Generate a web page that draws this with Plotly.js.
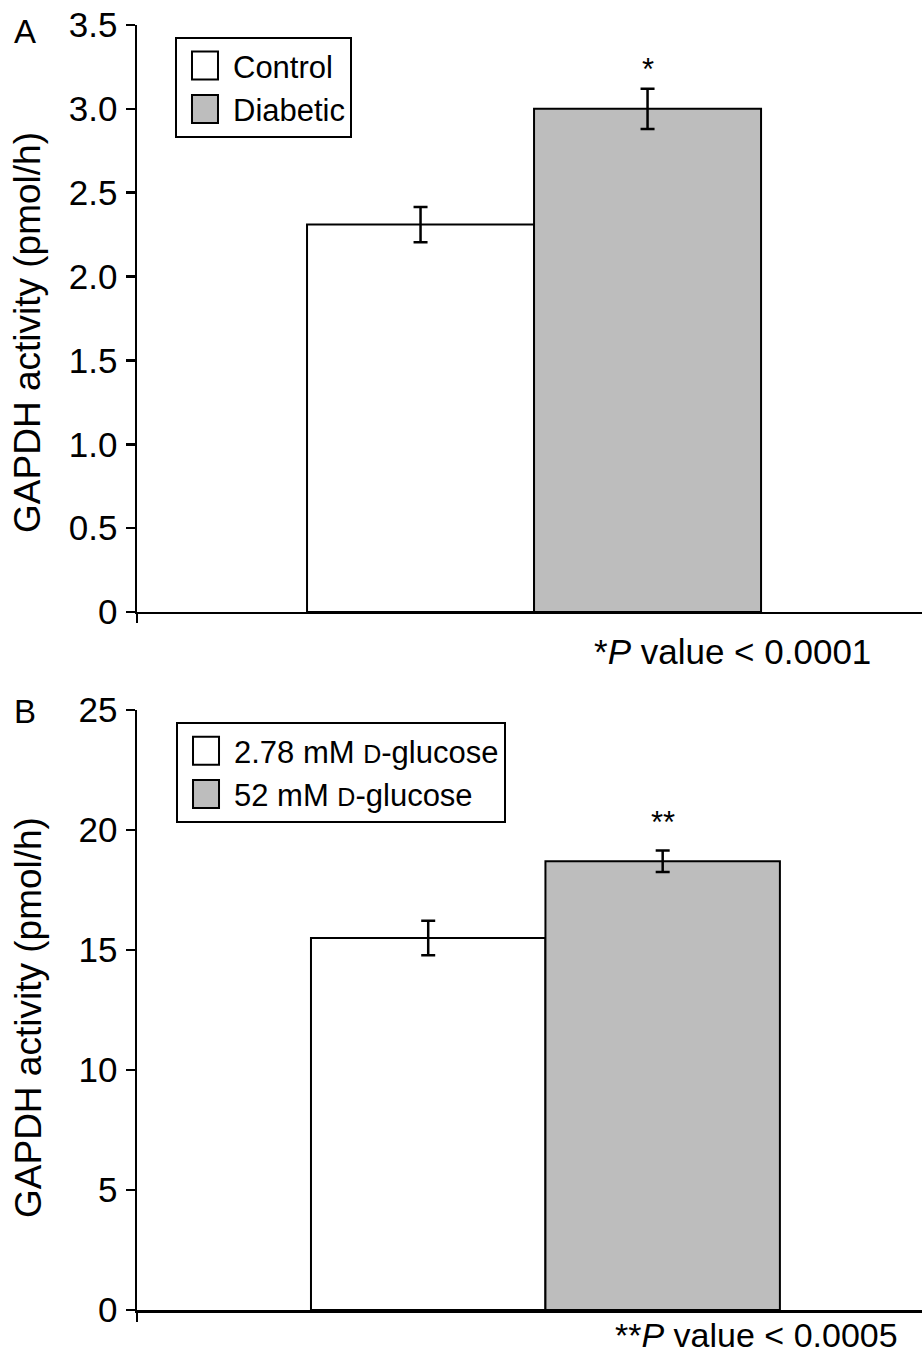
<!DOCTYPE html>
<html>
<head>
<meta charset="utf-8">
<script src="https://cdn.plot.ly/plotly-3.0.1.min.js"></script>
<style>html,body{margin:0;padding:0;background:#fff;}</style>
</head>
<body>
<div id="chart" style="width:922px;height:1359px;"></div>
<script>
// Panel A data
const categoriesA = ['Control', 'Diabetic'];
const valuesA = [2.31, 3.0];
const errorsA = [0.105, 0.12];
const tickValsA = [0, 0.5, 1.0, 1.5, 2.0, 2.5, 3.0, 3.5];
const tickTextA = ['0', '0.5', '1.0', '1.5', '2.0', '2.5', '3.0', '3.5'];
const starsA = ['', '*'];

// Panel B data
const categoriesB = ['2.78 mM <span style="font-size:25px">D</span>-glucose', '52 mM <span style="font-size:25px">D</span>-glucose'];
const valuesB = [15.5, 18.7];
const errorsB = [0.72, 0.45];
const tickValsB = [0, 5, 10, 15, 20, 25];
const tickTextB = ['0', '5', '10', '15', '20', '25'];
const starsB = ['', '**'];

const yTitle = 'GAPDH activity (pmol/h)';
const fills = ['#ffffff', '#bdbdbd'];
const FONT = 'Liberation Sans, Arial, Helvetica, sans-serif';

function makeBars(cats, vals, errs, xa, ya, legendId) {
  return cats.map((c, i) => ({
    type: 'bar',
    name: c,
    x: [i],
    y: [vals[i]],
    width: 1,
    xaxis: xa,
    yaxis: ya,
    legend: legendId,
    marker: {color: fills[i], line: {color: '#000', width: 2}},
    error_y: {type: 'data', array: [errs[i]], visible: true, color: '#000', thickness: 2.5, width: 7},
    hoverinfo: 'skip'
  }));
}

const data = [].concat(
  makeBars(categoriesA, valuesA, errorsA, 'x', 'y', 'legend'),
  makeBars(categoriesB, valuesB, errorsB, 'x2', 'y2', 'legend2')
);

const xRangeA = [-1.249, 2.209];
const xRangeB = [-1.242, 2.106];

function xAxis(range, anchor) {
  return {
    domain: [0, 1], anchor: anchor, range: range, type: 'linear',
    showline: true, linecolor: '#000', linewidth: 2.5,
    showgrid: false, zeroline: false,
    tickmode: 'array', tickvals: [range[0] + 0.001], ticks: 'outside', ticklen: 9, tickwidth: 2.5, tickcolor: '#000',
    showticklabels: false, fixedrange: true
  };
}
function yAxis(domain, range, tv, tt, anchor) {
  return {
    domain: domain, anchor: anchor, range: range,
    showline: true, linecolor: '#000', linewidth: 2.5,
    showgrid: false, zeroline: false,
    tickmode: 'array', tickvals: tv, ticktext: tt,
    ticks: 'outside', ticklen: 9, tickwidth: 2.5, tickcolor: '#000',
    ticklabelstandoff: 1,
    tickfont: {size: 35, color: '#000', family: FONT},
    fixedrange: true
  };
}

const annotations = [];
starsA.forEach((s, i) => { if (s) annotations.push({xref: 'x', yref: 'y', x: i, y: valuesA[i] + errorsA[i], text: s, showarrow: false, yanchor: 'bottom', yshift: 0, font: {size: 31, color: '#000', family: FONT}}); });
starsB.forEach((s, i) => { if (s) annotations.push({xref: 'x2', yref: 'y2', x: i, y: valuesB[i] + errorsB[i], text: s, showarrow: false, yanchor: 'bottom', yshift: 8, font: {size: 31, color: '#000', family: FONT}}); });
annotations.push({xref: 'paper', yref: 'paper', x: -0.1389, y: 0.7611, text: yTitle, textangle: -90, showarrow: false, xanchor: 'center', yanchor: 'middle', font: {size: 37, color: '#000', family: FONT}});
annotations.push({xref: 'paper', yref: 'paper', x: -0.1389, y: 0.228, text: yTitle, textangle: -90, showarrow: false, xanchor: 'center', yanchor: 'middle', font: {size: 37, color: '#000', family: FONT}});
annotations.push({xref: 'paper', yref: 'paper', x: -0.1427, y: 0.9946, text: 'A', showarrow: false, xanchor: 'center', yanchor: 'middle', font: {size: 33, color: '#000', family: FONT}});
annotations.push({xref: 'paper', yref: 'paper', x: -0.1427, y: 0.4654, text: 'B', showarrow: false, xanchor: 'center', yanchor: 'middle', font: {size: 33, color: '#000', family: FONT}});
annotations.push({xref: 'paper', yref: 'paper', x: 0.9376, y: 0.5128, text: '*<i>P</i> value &lt; 0.0001', showarrow: false, xanchor: 'right', yanchor: 'middle', font: {size: 35, color: '#000', family: FONT}});
annotations.push({xref: 'paper', yref: 'paper', x: 0.972, y: -0.0195, text: '**<i>P</i> value &lt; 0.0005', showarrow: false, xanchor: 'right', yanchor: 'middle', font: {size: 34, color: '#000', family: FONT}});

const legendStyle = {
  xanchor: 'left', yanchor: 'top', bgcolor: '#fff', bordercolor: '#000', borderwidth: 2,
  font: {size: 31, color: '#000', family: FONT}, traceorder: 'normal', itemwidth: 46
};

const layout = {
  width: 922, height: 1359,
  margin: {l: 137, r: 0, t: 25, b: 49, pad: 0},
  paper_bgcolor: '#fff', plot_bgcolor: '#fff',
  font: {family: FONT, color: '#000'},
  barmode: 'overlay',
  showlegend: true,
  xaxis: xAxis(xRangeA, 'y'),
  yaxis: yAxis([0.5432, 1], [0, 3.5], tickValsA, tickTextA, 'x'),
  xaxis2: xAxis(xRangeB, 'y2'),
  yaxis2: yAxis([0, 0.4669], [0, 25], tickValsB, tickTextB, 'x2'),
  legend: Object.assign({x: 0.0484, y: 0.9907}, legendStyle),
  legend2: Object.assign({x: 0.0497, y: 0.4576}, legendStyle),
  annotations: annotations
};

Plotly.newPlot('chart', data, layout, {staticPlot: true, displayModeBar: false}).then(() => {
  document.querySelectorAll('.legendpoints path').forEach(p => {
    p.setAttribute('d', 'M13,14H-13V-14H13Z');
  });
});
</script>
</body>
</html>
